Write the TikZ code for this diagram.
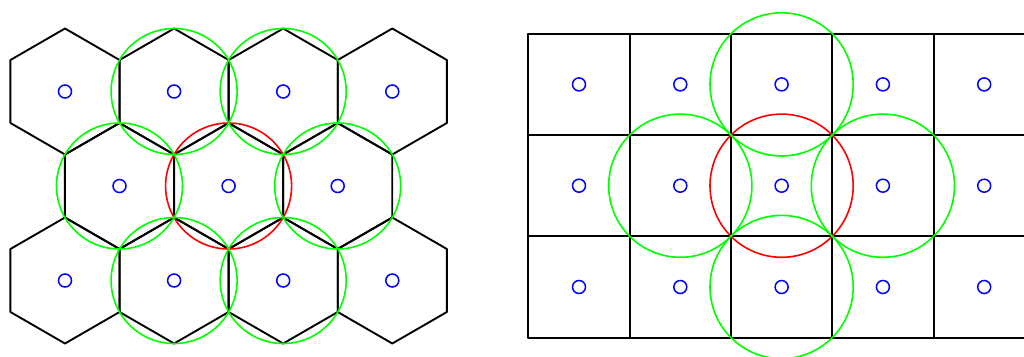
\documentclass[tikz,border=0pt]{standalone}
\usepackage{tikz}
\usetikzlibrary{calc}
\tikzset{
  cell/.style={line width=1.9pt,draw=black,line join=round},
  site/.style={circle,draw=blue,line width=1.5pt,minimum size=13pt,inner sep=0pt},
  cover/.style={line width=1.6pt,draw=green},
  own/.style={line width=1.6pt,draw=red}
}
\def\hexR{63}
\def\sq{101.3}

\begin{document}
\begin{tikzpicture}[x=1pt,y=-1pt]
  \useasboundingbox (0,0) rectangle (1024,356);
  \clip (0,0) rectangle (1024,356);
  % hexagonal cells
  \foreach \nm/\cx/\cy in {h11/65/91.5, h12/174.1/91.5, h13/283.2/91.5, h14/392.3/91.5,
      h21/119.5/186, h22/228.6/186, h23/337.7/186,
      h31/65/280.5, h32/174.1/280.5, h33/283.2/280.5, h34/392.3/280.5}{
    \node[site] (\nm) at (\cx,\cy) {};
    \draw[cell] ($(\nm)+(90:\hexR)$) \foreach \a in {150,210,270,330,30}{-- ($(\nm)+(\a:\hexR)$)} -- cycle;
  }
  % square cells
  \foreach \nm/\cx/\cy in {s11/579/84.4, s12/680.3/84.4, s13/781.6/84.4, s14/882.9/84.4, s15/984.2/84.4,
      s21/579/185.7, s22/680.3/185.7, s23/781.6/185.7, s24/882.9/185.7, s25/984.2/185.7,
      s31/579/287, s32/680.3/287, s33/781.6/287, s34/882.9/287, s35/984.2/287}{
    \node[site] (\nm) at (\cx,\cy) {};
    \draw[cell] ($(\nm)+(-\sq/2,-\sq/2)$) rectangle ++(\sq,\sq);
  }
  % circumcircles
  \draw[own] (h22) circle (63pt);
  \foreach \nm in {h12,h13,h21,h23,h32,h33}
    \draw[cover] (\nm) circle (63pt);
  \draw[own] (s23) circle (71.6pt);
  \foreach \nm in {s13,s22,s24,s33}
    \draw[cover] (\nm) circle (71.6pt);
\end{tikzpicture}
\end{document}
